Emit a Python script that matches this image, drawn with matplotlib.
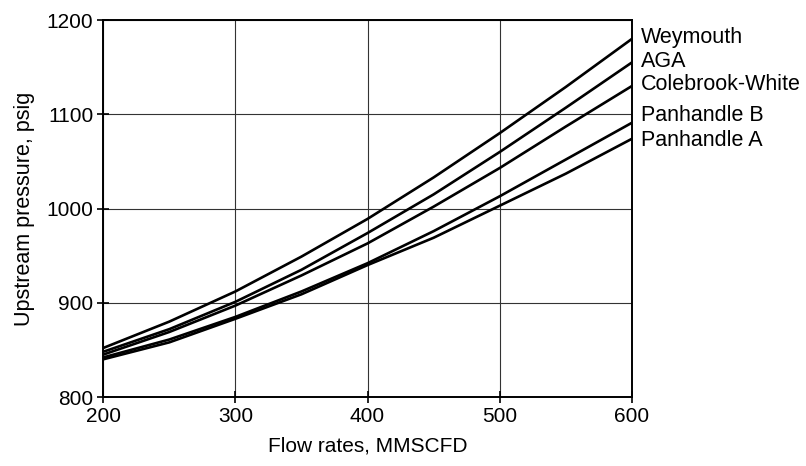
import matplotlib
matplotlib.use("Agg")
import matplotlib.pyplot as plt

flow = [200, 250, 300, 350, 400, 450, 500, 550, 600]

weymouth = [852, 880, 912, 949, 989, 1033, 1080, 1129, 1180]
aga = [848, 872, 901, 935, 974, 1015, 1060, 1107, 1155]
colebrook = [845, 869, 897, 929, 963, 1002, 1043, 1087, 1130]
panhandle_b = [842, 861, 885, 912, 942, 976, 1013, 1052, 1091]
panhandle_a = [840, 858, 883, 909, 940, 969, 1003, 1037, 1074]

names = ["Weymouth", "AGA", "Colebrook-White", "Panhandle B", "Panhandle A"]
label_y = [1181, 1156, 1132, 1099, 1072]

plt.rcParams['font.family'] = ['Liberation Sans', 'DejaVu Sans']

fig = plt.figure(figsize=(8.06, 4.66), dpi=100)
ax = fig.add_axes([0.128, 0.148, 0.656, 0.809])

for series in [weymouth, aga, colebrook, panhandle_b, panhandle_a]:
    ax.plot(flow, series, color="black", lw=1.9, zorder=3)

ax.set_xlim(200, 600)
ax.set_ylim(800, 1200)
ax.set_xticks([200, 300, 400, 500, 600])
ax.set_yticks([800, 900, 1000, 1100, 1200])
ax.grid(True, color="#333333", lw=0.8)
for s in ax.spines.values():
    s.set_linewidth(1.4)
ax.tick_params(direction="inout", length=8, width=1.2, labelsize=15, pad=3)

ax.set_xlabel("Flow rates, MMSCFD", fontsize=15, labelpad=8)
ax.set_ylabel("Upstream pressure, psig", fontsize=15.5, labelpad=8)

for name, yv in zip(names, label_y):
    ax.text(607, yv, name, fontsize=15.5, va="center", ha="left", clip_on=False)

fig.savefig("out.png", dpi=100)
